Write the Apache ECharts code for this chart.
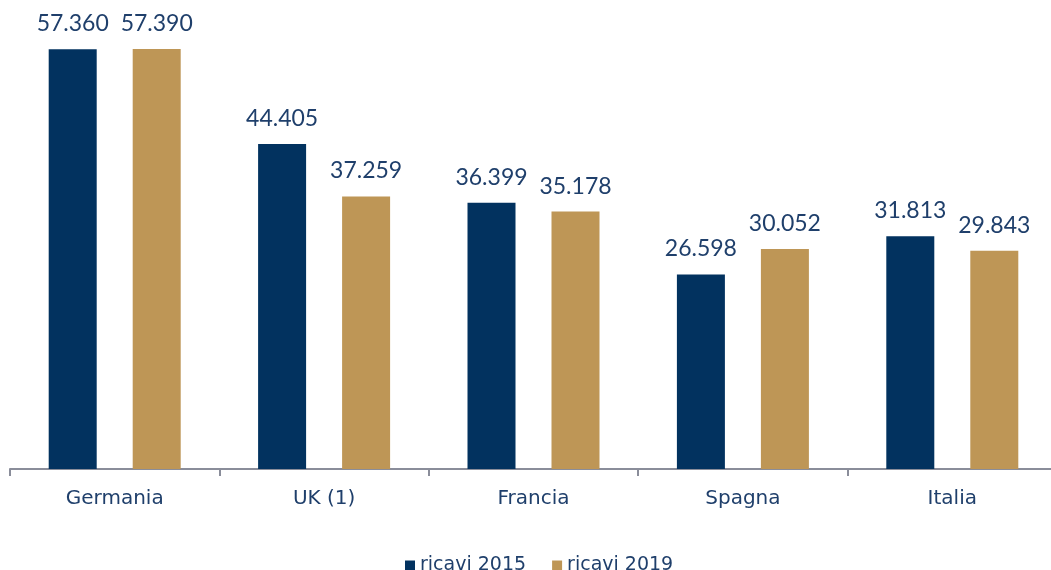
<!DOCTYPE html>
<html>
<head>
<meta charset="utf-8">
<script src="https://cdn.jsdelivr.net/npm/echarts@6/dist/echarts.min.js"></script>
<style>
  html, body { margin: 0; padding: 0; background: #fff; }
  #chart { width: 1051px; height: 570px; }
</style>
</head>
<body>
<div id="chart"></div>
<script>
const categories = ['Germania', 'UK (1)', 'Francia', 'Spagna', 'Italia']
const ricavi2015 = [57360, 44405, 36399, 26598, 31813]
const ricavi2019 = [57390, 37259, 35178, 30052, 29843]

const textColor = '#1f3f6b'
const fontFamily = 'Lato, "Open Sans", sans-serif'
const wideFont = '"DejaVu Sans", sans-serif'

const fmt = (v) => String(v).replace(/\B(?=(\d{3})+(?!\d))/g, '.')

const chart = echarts.init(document.getElementById('chart'))

const valueLabel = {
  show: true,
  position: 'top',
  distance: 14,
  color: textColor,
  fontSize: 23,
  fontWeight: 400,
  fontFamily,
  formatter: (p) => fmt(p.value),
}

chart.setOption({
  backgroundColor: '#ffffff',
  animation: false,
  legend: {
    data: ['ricavi 2015', 'ricavi 2019'],
    top: 551,
    left: 400,
    itemWidth: 10,
    itemHeight: 10,
    itemGap: 26,
    icon: 'rect',
    textStyle: { color: textColor, fontSize: 19, fontFamily: wideFont },
  },
  grid: { left: 10, width: 1047, top: 30, bottom: 101, outerBoundsMode: 'none' },
  xAxis: {
    type: 'category',
    data: categories,
    axisLine: { lineStyle: { color: '#8a8d9a', width: 2 } },
    axisTick: { show: true, length: 7, lineStyle: { color: '#8a8d9a', width: 2 } },
    axisLabel: { color: textColor, fontSize: 20, fontFamily: wideFont, margin: 20 },
  },
  yAxis: {
    type: 'value',
    min: 0,
    max: 60000,
    show: false,
    splitLine: { show: false },
  },
  series: [
    {
      name: 'ricavi 2015',
      type: 'bar',
      data: ricavi2015,
      barWidth: 48,
      barGap: '75%',
      itemStyle: { color: '#02325f' },
      label: valueLabel,
    },
    {
      name: 'ricavi 2019',
      type: 'bar',
      data: ricavi2019,
      barWidth: 48,
      itemStyle: { color: '#be9656' },
      label: valueLabel,
    },
  ],
})
</script>
</body>
</html>
